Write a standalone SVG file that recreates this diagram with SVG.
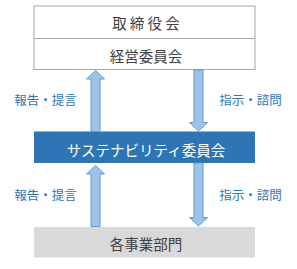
<svg xmlns="http://www.w3.org/2000/svg" width="297" height="269" viewBox="0 0 297 269">
<style>
text{font-family:"Noto Sans CJK JP","Noto Sans CJK SC",sans-serif;dominant-baseline:central;text-anchor:middle}
.main{font-size:14.5px;fill:#404040}
.lbl{font-size:12.5px;fill:#2E75B6}
.arrow{fill:#9DC3E6;stroke:#5B9BD5;stroke-width:1}
</style>
<rect width="297" height="269" fill="#fff"/>
<g id="board">
<rect x="34" y="6" width="221" height="63.5" fill="#fff" stroke="#A6A6A6" stroke-width="1"/>
<text class="main" x="146" y="22.5">取 締 役 会</text>
</g>
<g id="mgmt">
<line x1="34" y1="38.5" x2="255" y2="38.5" stroke="#A6A6A6" stroke-width="1"/>
<text class="main" x="146" y="55.5">経営委員会</text>
</g>
<g id="sustain">
<rect x="34" y="131.5" width="221" height="31.5" fill="#2E75B6"/>
<text class="main" x="146" y="149.5" style="fill:#fff">サステナビリティ委員会</text>
</g>
<g id="divisions">
<rect x="34" y="227" width="221" height="30.5" fill="#D9D9D9"/>
<text class="main" x="146" y="243">各事業部門</text>
</g>
<g id="connectors">
<path class="arrow" d="M91,131.5 V79 H86.5 L95.5,70.5 L104.5,79 H100 V131.5 Z"/>
<path class="arrow" d="M194,70 V122.5 H189.5 L198.5,131 L207.5,122.5 H203 V70 Z"/>
<path class="arrow" d="M91,226.5 V174 H86.5 L95.5,165.5 L104.5,174 H100 V226.5 Z"/>
<path class="arrow" d="M194,163 V217.5 H189.5 L198.5,226 L207.5,217.5 H203 V163 Z"/>
<text class="lbl" x="45.5" y="99">報告・提言</text>
<text class="lbl" x="250.5" y="99">指示・諮問</text>
<text class="lbl" x="45.5" y="194.5">報告・提言</text>
<text class="lbl" x="250.5" y="194.5">指示・諮問</text>
</g>
</svg>
